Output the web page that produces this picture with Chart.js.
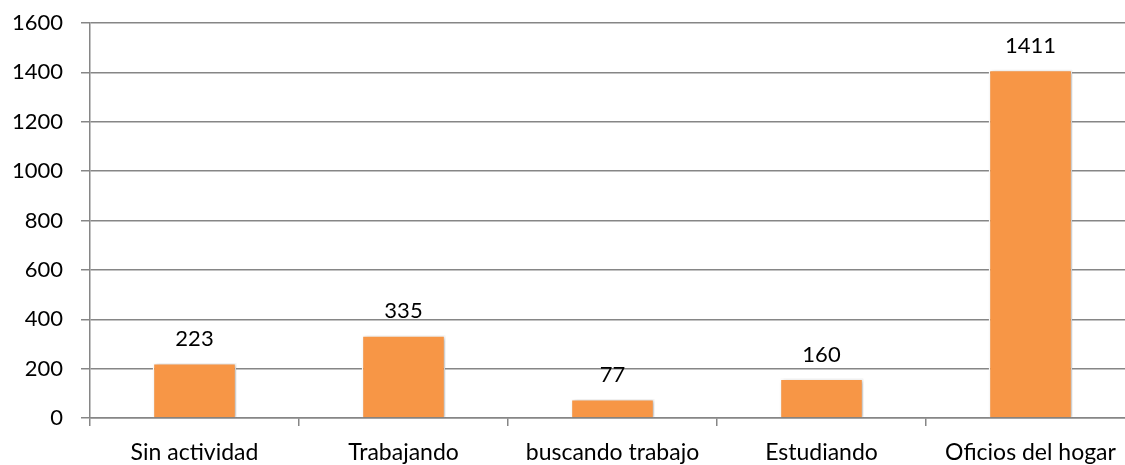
<!DOCTYPE html>
<html>
<head>
<meta charset="utf-8">
<script src="https://cdn.jsdelivr.net/npm/chart.js@4"></script>
<style>
  html, body { margin: 0; padding: 0; background: #fff; overflow: hidden; }
  #wrap { width: 1135px; height: 465px; }
</style>
</head>
<body>
<div id="wrap"><canvas id="chart"></canvas></div>
<script>
// Activity categories and counts
const categories = ["Sin actividad", "Trabajando", "buscando trabajo", "Estudiando", "Oficios del hogar"];
const counts = [223, 335, 77, 160, 1411];
const yTicks = [0, 200, 400, 600, 800, 1000, 1200, 1400, 1600];

const fontFamily = "Lato, 'Open Sans', sans-serif";

// writes the value above each bar
const valueLabels = {
    id: "valueLabels",
    afterDatasetsDraw(chart) {
        const ctx = chart.ctx;
        const meta = chart.getDatasetMeta(0);
        ctx.save();
        ctx.font = "22px " + fontFamily;
        ctx.fillStyle = "#000";
        ctx.textAlign = "center";
        ctx.textBaseline = "alphabetic";
        meta.data.forEach((bar, i) => {
            ctx.fillText(counts[i], bar.x, bar.y - 17);
        });
        ctx.restore();
    }
};

// soft shadow behind the bars
const barShadow = {
    id: "barShadow",
    beforeDatasetDraw(chart) {
        const ctx = chart.ctx;
        ctx.save();
        ctx.shadowColor = "rgba(0,0,0,0.25)";
        ctx.shadowBlur = 4;
        ctx.shadowOffsetX = 2;
        ctx.shadowOffsetY = 1;
    },
    afterDatasetDraw(chart) {
        chart.ctx.restore();
    }
};

new Chart(document.getElementById("chart"), {
    type: "bar",
    data: {
        labels: categories,
        datasets: [{
            data: counts,
            backgroundColor: "#F79646",
            borderColor: "#ffffff",
            borderWidth: 1.5,
            categoryPercentage: 1,
            barPercentage: 0.4
        }]
    },
    options: {
        responsive: true,
        maintainAspectRatio: false,
        animation: false,
        layout: { padding: { top: 23, left: 0, right: 0, bottom: 0 } },
        plugins: {
            legend: { display: false },
            tooltip: { enabled: false }
        },
        scales: {
            x: {
                offset: true,
                grid: {
                    offset: true,
                    drawOnChartArea: false,
                    color: "#868686",
                    lineWidth: 1.5,
                    tickLength: 8
                },
                border: { color: "#868686", width: 1.5 },
                ticks: {
                    color: "#000",
                    font: { family: fontFamily, size: 23 },
                    padding: 13,
                    maxRotation: 0,
                    autoSkip: false
                },
                afterFit(scale) { scale.height = 47; }
            },
            y: {
                min: 0,
                max: 1600,
                afterBuildTicks(scale) {
                    scale.ticks = yTicks.map(v => ({ value: v }));
                },
                grid: {
                    color: "#868686",
                    lineWidth: 1.5,
                    tickLength: 9
                },
                border: { color: "#868686", width: 1.5 },
                ticks: {
                    color: "#000",
                    font: { family: fontFamily, size: 22 },
                    padding: 18,
                    callback: (v) => String(v)
                },
                afterFit(scale) {
                    scale.width = 90;
                    scale.paddingTop = 0;
                    scale.paddingBottom = 0;
                }
            }
        }
    },
    plugins: [barShadow, valueLabels]
});
</script>
</body>
</html>
